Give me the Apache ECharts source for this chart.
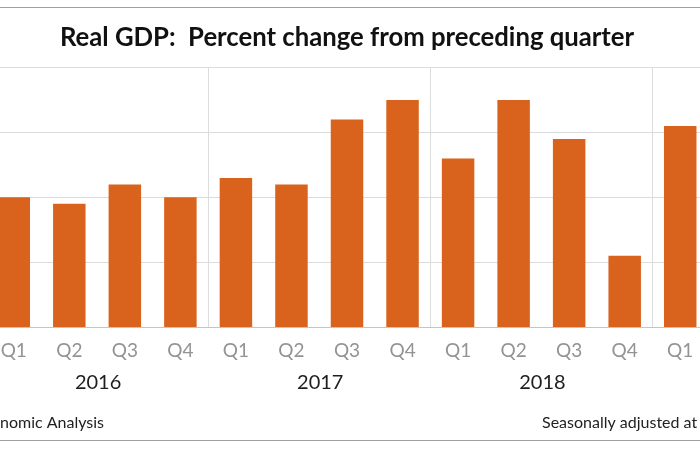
<!DOCTYPE html>
<html>
<head>
<meta charset="utf-8">
<script src="https://cdn.jsdelivr.net/npm/echarts@6/dist/echarts.min.js"></script>
<style>
html,body{margin:0;padding:0;background:#fff;overflow:hidden;width:700px;height:450px;}
#main{width:722px;height:450px;margin-left:-14px;}
</style>
</head>
<body>
<div id="main"></div>
<script>
// ---- data ----
var quarters = ['Q1','Q2','Q3','Q4','Q1','Q2','Q3','Q4','Q1','Q2','Q3','Q4','Q1'];
var years    = ['2016','2016','2016','2016','2017','2017','2017','2017','2018','2018','2018','2018','2019'];
var gdpChange = [2.0, 1.9, 2.2, 2.0, 2.3, 2.2, 3.2, 3.5, 2.6, 3.5, 2.9, 1.1, 3.1];
var yearLabels = ['2016','2017','2018'];
var titleText = 'Real GDP:  Percent change from preceding quarter';
var sourceText = 'nomic Analysis';
var noteText = 'Seasonally adjusted at';

var FONT = 'Lato, "Open Sans", sans-serif';
var OFF = 14; // the chart canvas starts 14px left of the visible window
var chart = echarts.init(document.getElementById('main'), null, {renderer:'canvas'});
var cats = quarters.map(function(q,i){ return years[i] + ' ' + q; });

chart.setOption({
  animation:false,
  backgroundColor:'#ffffff',
  title:{
    text:titleText, left:'center', top:20, padding:[5,0,5,24],
    textStyle:{fontFamily:FONT, fontWeight:'bold', fontSize:25.7, color:'#111111'}
  },
  grid:{left:0, right:0, top:67.7, bottom:123, containLabel:false},
  xAxis:[{
    type:'category', data:cats, boundaryGap:true,
    axisTick:{show:false},
    axisLine:{show:true, lineStyle:{color:'#c4c4c4', width:1}},
    axisLabel:{
      margin:14, fontFamily:FONT, fontSize:19, color:'#939393',
      formatter:function(v){ return v.split(' ')[1]; }
    },
    splitLine:{
      show:true,
      interval:function(index){ return index > 0 && quarters[index] === 'Q1'; },
      lineStyle:{color:'#dcdcdc', width:1}
    }
  }],
  yAxis:{
    type:'value', min:0, max:4, interval:1,
    axisLabel:{show:false}, axisTick:{show:false}, axisLine:{show:false},
    splitLine:{lineStyle:{color:'#dcdcdc', width:1}}
  },
  series:[{
    type:'bar', data:gdpChange, barCategoryGap:'41.5%',
    itemStyle:{color:'#d9631d'}
  }]
});

// year labels centred under each group of quarters, positions from the axis scale
var gfx = [];
yearLabels.forEach(function(y){
  var first = years.indexOf(y), last = years.lastIndexOf(y);
  var x0 = chart.convertToPixel({xAxisIndex:0}, cats[first]);
  var x1 = chart.convertToPixel({xAxisIndex:0}, cats[last]);
  gfx.push({type:'text', x:(x0+x1)/2 + 1, y:383,
    style:{text:y, fontFamily:FONT, fontSize:20, fill:'#1e1e1e', align:'center', verticalAlign:'middle'}});
});
gfx.push({type:'text', x:OFF, y:423, style:{text:sourceText, fontFamily:FONT, fontSize:16, fill:'#222', align:'left', verticalAlign:'middle'}});
gfx.push({type:'text', x:OFF+542, y:423, style:{text:noteText, fontFamily:FONT, fontSize:16, fill:'#222', align:'left', verticalAlign:'middle'}});
gfx.push({type:'line', shape:{x1:OFF, y1:7.5, x2:OFF+700, y2:7.5}, style:{stroke:'#a0a0a0', lineWidth:1}});
gfx.push({type:'line', shape:{x1:OFF, y1:440.5, x2:OFF+700, y2:440.5}, style:{stroke:'#a0a0a0', lineWidth:1}});
chart.setOption({graphic:gfx});
</script>
</body>
</html>
